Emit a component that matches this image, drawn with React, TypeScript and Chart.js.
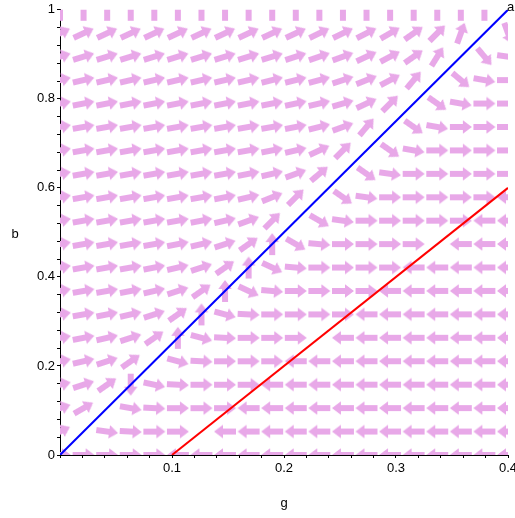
import React, { useEffect, useRef } from "react";
import { Chart, registerables } from "chart.js";

Chart.register(...registerables);

// ---- grid of the direction field (20 x 20 points) ----
const gridG = [0, 0.02105, 0.04211, 0.06316, 0.08421, 0.10526, 0.12632, 0.14737, 0.16842, 0.18947,
  0.21053, 0.23158, 0.25263, 0.27368, 0.29474, 0.31579, 0.33684, 0.35789, 0.37895, 0.4];
const gridB = [0, 0.05263, 0.10526, 0.15789, 0.21053, 0.26316, 0.31579, 0.36842, 0.42105, 0.47368,
  0.52632, 0.57895, 0.63158, 0.68421, 0.73684, 0.78947, 0.84211, 0.89474, 0.94737, 1];

// arrow directions (degrees, counter-clockwise from +g), one row per b value; null = no arrow
const angB19 = [90, 90, 90, 90, 90, 90, 90, 90, 90, 90, 90, 90, 90, 90, 90, 90, 90, 90, 90, null];
const angB18 = [25, 25, 25, 25, 25, 25, 25, 25, 25, 25, 25, 26, 26, 27, 30, 35, 45, 70, null, -70];
const angB17 = [17, 17, 17, 17, 17, 17, 17, 17, 17, 17, 18, 19, 20, 25, 28, 35, 58, null, -50, -8];
const angB16 = [13, 13, 13, 13, 13, 13, 13, 13, 13, 14, 14, 15, 18, 22, 28, 50, null, -40, -10, 0];
const angB15 = [11, 11, 11, 11, 11, 11, 11, 11, 11, 11, 12, 13, 16, 25, 45, null, -35, -10, 0, 0];
const angB14 = [10, 10, 10, 10, 10, 10, 10, 10, 10, 10, 11, 14, 20, 50, null, -35, -10, 0, 0, 0];
const angB13 = [10, 10, 10, 10, 10, 10, 10, 10, 10, 11, 13, 25, 45, null, -35, -10, 0, 0, 0, 0];
const angB12 = [10, 10, 10, 10, 10, 10, 10, 10, 11, 13, 20, 40, null, -35, -8, 0, 0, 0, 0, 0];
const angB11 = [10, 10, 10, 10, 10, 10, 10, 11, 13, 22, 45, null, -35, -8, 0, 0, 0, 0, 0, 180];
const angB10 = [10, 10, 10, 10, 10, 10, 11, 13, 20, 45, null, -30, -8, 0, 0, 0, 0, 0, 180, 180];
const angB9 = [10, 10, 10, 10, 10, 11, 13, 18, 35, 90, -30, -5, 0, 0, 0, 0, null, 180, 180, 180];
const angB8 = [10, 10, 10, 10, 11, 13, 18, 35, 90, -25, -5, 0, 0, 0, 0, 180, 180, 180, 180, 180];
const angB7 = [10, 10, 10, 11, 13, 18, 35, 90, -25, -5, 0, 0, 0, 0, 180, 180, 180, 180, 180, 180];
const angB6 = [10, 10, 11, 13, 18, 35, 90, -15, -3, 0, 0, 0, 0, 180, 180, 180, 180, 180, 180, 180];
const angB5 = [10, 11, 13, 18, 35, 90, -15, -3, 0, 0, 0, null, 180, 180, 180, 180, 180, 180, 180, 180];
const angB4 = [11, 13, 18, 35, null, -15, -3, 0, 0, 0, 180, 180, 180, 180, 180, 180, 180, 180, 180, 180];
const angB3 = [13, 18, 35, -90, -12, -3, 0, 0, 0, 180, 180, 180, 180, 180, 180, 180, 180, 180, 180, 180];
const angB2 = [18, 30, null, -10, -3, 0, 0, 0, 180, 180, 180, 180, 180, 180, 180, 180, 180, 180, 180, 180];
const angB1 = [25, null, -8, -3, 0, 0, null, 180, 180, 180, 180, 180, 180, 180, 180, 180, 180, 180, 180, 180];
const angB0 = [0, 0, 0, 0, 0, 180, 180, 180, 180, 180, 180, 180, 180, 180, 180, 180, 180, 180, 180, 180];

// rows listed from b = 0 upward
const angleRows = [angB0, angB1, angB2, angB3, angB4, angB5, angB6, angB7, angB8, angB9,
  angB10, angB11, angB12, angB13, angB14, angB15, angB16, angB17, angB18, angB19];

// ---- curves ----
const blueLineG = [0, 0.4];
const blueLineB = [0, 1];
const redLineG = [0.1, 0.4];
const redLineB = [0, 0.6];
const curveLabel = "a";

// ---- axes ----
const xTickValues = [0, 0.02, 0.04, 0.06, 0.08, 0.1, 0.12, 0.14, 0.16, 0.18, 0.2, 0.22, 0.24, 0.26, 0.28,
  0.3, 0.32, 0.34, 0.36, 0.38, 0.4];
const xMajorValues = [0.1, 0.2, 0.3, 0.4];
const xMajorLabels = ["0.1", "0.2", "0.3", "0.4"];
const yTickValues = [0, 0.04, 0.08, 0.12, 0.16, 0.2, 0.24, 0.28, 0.32, 0.36, 0.4, 0.44, 0.48, 0.52, 0.56,
  0.6, 0.64, 0.68, 0.72, 0.76, 0.8, 0.84, 0.88, 0.92, 0.96, 1];
const yMajorValues = [0, 0.2, 0.4, 0.6, 0.8, 1];
const yMajorLabels = ["0", "0.2", "0.4", "0.6", "0.8", "1"];
const xTitle = "g";
const yTitle = "b";

const FONT = '"Liberation Sans", Arial, sans-serif';
const ARROW_COLOR = "#e8a8e8";

function labelFor(v: number, vals: number[], labels: string[]): string {
  for (let k = 0; k < vals.length; k++) {
    if (Math.abs(vals[k] - v) < 1e-9) return labels[k];
  }
  return "";
}

function makeArrow(): HTMLCanvasElement {
  const c = document.createElement("canvas");
  c.width = 26;
  c.height = 26;
  const g = c.getContext("2d")!;
  g.fillStyle = ARROW_COLOR;
  g.beginPath();
  g.moveTo(2, 10);
  g.lineTo(15, 10);
  g.lineTo(15, 6.3);
  g.lineTo(24, 13);
  g.lineTo(15, 19.7);
  g.lineTo(15, 16);
  g.lineTo(2, 16);
  g.closePath();
  g.fill();
  return c;
}

const textPlugin = {
  id: "extraText",
  afterDraw(chart: any) {
    const ctx = chart.ctx;
    const xs = chart.scales.x;
    const ys = chart.scales.y;
    ctx.save();
    ctx.font = `13px ${FONT}`;
    ctx.fillStyle = "#000";
    ctx.textAlign = "center";
    ctx.textBaseline = "alphabetic";
    ctx.fillText(yTitle, 15, (ys.top + ys.bottom) / 2 + 6);
    ctx.textAlign = "left";
    ctx.fillText(
      curveLabel,
      xs.getPixelForValue(blueLineG[1]) - 1,
      ys.getPixelForValue(blueLineB[1]) + 1
    );
    ctx.restore();
  },
};

export default function App() {
  const ref = useRef<HTMLCanvasElement | null>(null);

  useEffect(() => {
    if (!ref.current) return;
    const arrowImg = makeArrow();
    const pts: { x: number; y: number; a: number }[] = [];
    angleRows.forEach((row, j) => {
      row.forEach((a, i) => {
        if (a !== null) pts.push({ x: gridG[i], y: gridB[j], a: a as number });
      });
    });
    const blue = blueLineG.map((g, k) => ({ x: g, y: blueLineB[k] }));
    const red = redLineG.map((g, k) => ({ x: g, y: redLineB[k] }));

    const tickFont = { family: FONT, size: 13 };

    const chart = new Chart(ref.current, {
      type: "scatter",
      data: {
        datasets: [
          {
            type: "line",
            data: blue,
            borderColor: "#0000ff",
            borderWidth: 2,
            pointRadius: 0,
            fill: false,
            order: 0,
            clip: 0,
          } as any,
          {
            type: "line",
            data: red,
            borderColor: "#ff0000",
            borderWidth: 2,
            pointRadius: 0,
            fill: false,
            order: 1,
            clip: 0,
          } as any,
          {
            type: "scatter",
            data: pts,
            pointStyle: arrowImg,
            pointRadius: 1,
            pointRotation: (c: any) => (c.raw ? -c.raw.a : 0),
            order: 2,
            clip: 0,
          } as any,
        ],
      },
      options: {
        animation: false,
        responsive: false,
        events: [],
        layout: { padding: { top: 8, right: 22, left: 0, bottom: 0 } },
        plugins: {
          legend: { display: false },
          tooltip: { enabled: false },
        },
        scales: {
          x: {
            type: "linear",
            min: 0,
            max: 0.4,
            afterBuildTicks: (s: any) => {
              s.ticks = xTickValues.map((v) => ({ value: v }));
            },
            afterFit: (s: any) => {
              s.height = 63;
            },
            ticks: {
              autoSkip: false,
              maxRotation: 0,
              padding: 3,
              color: "#000",
              font: tickFont,
              callback: (v: any) => labelFor(Number(v), xMajorValues, xMajorLabels),
            },
            grid: { drawOnChartArea: false, drawTicks: true, tickLength: 3, color: "#000" },
            border: { display: true, color: "#000", width: 1 },
            title: {
              display: true,
              text: xTitle,
              color: "#000",
              font: { family: FONT, size: 13 },
              padding: { top: 0, bottom: 7 },
            },
          },
          y: {
            type: "linear",
            min: 0,
            max: 1,
            afterBuildTicks: (s: any) => {
              s.ticks = yTickValues.map((v) => ({ value: v }));
            },
            afterFit: (s: any) => {
              s.width = 60;
            },
            ticks: {
              autoSkip: false,
              padding: 2,
              color: "#000",
              font: tickFont,
              callback: (v: any) => labelFor(Number(v), yMajorValues, yMajorLabels),
            },
            grid: { drawOnChartArea: false, drawTicks: true, tickLength: 3, color: "#000" },
            border: { display: true, color: "#000", width: 1 },
          },
        },
      } as any,
      plugins: [textPlugin],
    });
    return () => chart.destroy();
  }, []);

  return (
    <div
      style={{
        position: "fixed",
        left: 0,
        top: 0,
        width: 515,
        height: 518,
        overflow: "hidden",
        background: "#fff",
      }}
    >
      <canvas ref={ref} width={530} height={518} style={{ width: 530, height: 518, display: "block" }} />
    </div>
  );
}
